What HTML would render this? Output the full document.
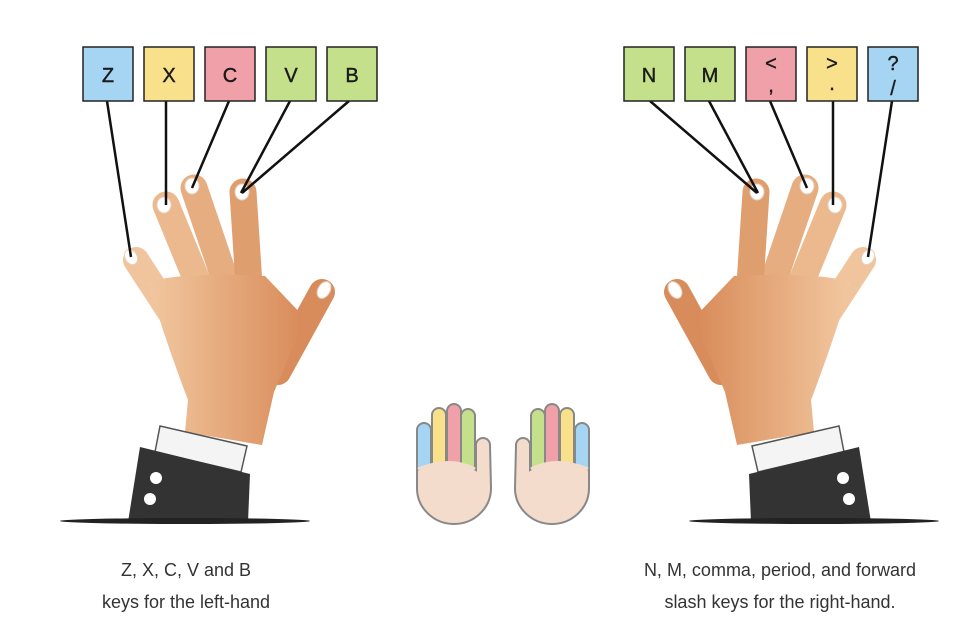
<!DOCTYPE html>
<html><head><meta charset="utf-8"><style>
html,body{margin:0;padding:0;background:#fff;width:960px;height:640px;overflow:hidden}
svg{display:block}
text{font-family:"Liberation Sans",sans-serif}
</style></head><body>
<svg width="960" height="640" viewBox="0 0 960 640" xmlns="http://www.w3.org/2000/svg">
<defs>
<linearGradient id="sk" x1="0" y1="0" x2="1" y2="0" gradientUnits="objectBoundingBox">
<stop offset="0" stop-color="#f2c8a0"/><stop offset="1" stop-color="#d88a58"/>
</linearGradient>
<g id="hand">
 <g stroke-linecap="round" fill="none">
  <line x1="136" y1="260" x2="185" y2="335" stroke="#f0c49c" stroke-width="26"/>
  <line x1="166" y1="205" x2="205" y2="300" stroke="#ecb98e" stroke-width="27"/>
  <line x1="194" y1="188" x2="232" y2="300" stroke="#e6ad80" stroke-width="27"/>
  <line x1="243" y1="192" x2="250" y2="300" stroke="#df9e6e" stroke-width="27"/>
  <line x1="322" y1="292" x2="278" y2="372" stroke="#d88c5c" stroke-width="26"/>
 </g>
 <path d="M148,282 Q180,272 265,276 L305,318 Q288,360 274,392 L262,445 L185,432 L188,400 Q165,340 148,282 Z" fill="url(#sk)"/>
 <g fill="#fff" stroke="#e8d0c0" stroke-width="1">
  <ellipse cx="131" cy="257" rx="6" ry="8" transform="rotate(-30 131 257)"/>
  <ellipse cx="164" cy="205" rx="7" ry="8"/>
  <ellipse cx="192" cy="186" rx="7" ry="8"/>
  <ellipse cx="242" cy="192" rx="7" ry="8"/>
  <ellipse cx="324" cy="290" rx="6" ry="9" transform="rotate(30 324 290)"/>
 </g>
 <polygon points="160,426 247,446 241,472 155,452" fill="#f4f4f4" stroke="#555" stroke-width="1.5"/>
 <polygon points="140,447 250,474 248,522 128,522" fill="#333"/>
 <circle cx="156" cy="478" r="6" fill="#fff"/>
 <circle cx="150" cy="499" r="6" fill="#fff"/>
 <ellipse cx="185" cy="521" rx="125" ry="3" fill="#222"/>
 <g stroke="#111" stroke-width="2.5">
  <line x1="107" y1="101" x2="131" y2="257"/>
  <line x1="166" y1="101" x2="166" y2="205"/>
  <line x1="229" y1="101" x2="192" y2="188"/>
  <line x1="290" y1="101" x2="241" y2="193"/>
  <line x1="349" y1="101" x2="242" y2="193"/>
 </g>
</g>
<g id="small">
 <g stroke="#888" stroke-width="2">
  <rect x="417" y="423" width="14" height="60" rx="7" fill="#a6d5f3"/>
  <rect x="432" y="408" width="14" height="70" rx="7" fill="#f9e08a"/>
  <rect x="447" y="404" width="14" height="70" rx="7" fill="#f0a0a8"/>
  <rect x="461" y="409" width="14" height="70" rx="7" fill="#c5e08a"/>
  <path d="M417,470 L417,488 A37,36 0 0 0 491,488 L490,445 A7,7 0 0 0 476,445 L476,470 Q450,455 417,470 Z" fill="#f4dccd"/>
 </g>
 <path d="M418,469 Q450,456 475,469" fill="none" stroke="#f4dccd" stroke-width="3"/>
</g>
</defs>
<use href="#hand"/>
<use href="#hand" transform="translate(999,0) scale(-1,1)"/>
<use href="#small"/>
<use href="#small" transform="translate(1006,0) scale(-1,1)"/>
<g stroke="#222" stroke-width="1.5">
 <rect x="83" y="47" width="50" height="54" fill="#a6d5f3"/>
 <rect x="144" y="47" width="50" height="54" fill="#f9e08a"/>
 <rect x="205" y="47" width="50" height="54" fill="#f0a0a8"/>
 <rect x="266" y="47" width="50" height="54" fill="#c5e08a"/>
 <rect x="327" y="47" width="50" height="54" fill="#c5e08a"/>
 <rect x="624" y="47" width="50" height="54" fill="#c5e08a"/>
 <rect x="685" y="47" width="50" height="54" fill="#c5e08a"/>
 <rect x="746" y="47" width="50" height="54" fill="#f0a0a8"/>
 <rect x="807" y="47" width="50" height="54" fill="#f9e08a"/>
 <rect x="868" y="47" width="50" height="54" fill="#a6d5f3"/>
</g>
<g font-size="20" fill="#1a1a1a" text-anchor="middle" stroke="#1a1a1a" stroke-width="0.4">
 <text x="108" y="82">Z</text><text x="169" y="82">X</text><text x="230" y="82">C</text>
 <text x="291" y="82">V</text><text x="352" y="82">B</text>
 <text x="649" y="82">N</text><text x="710" y="82">M</text>
 <text x="771" y="70">&lt;</text><text x="771" y="92">,</text>
 <text x="832" y="70">&gt;</text><text x="832" y="90">.</text>
 <text x="893" y="70">?</text><text x="893" y="95">/</text>
</g>
<g font-size="18" fill="#333" text-anchor="middle">
 <text x="186" y="576">Z, X, C, V and B</text>
 <text x="186" y="608">keys for the left-hand</text>
 <text x="780" y="576">N, M, comma, period, and forward</text>
 <text x="780" y="608">slash keys for the right-hand.</text>
</g>
</svg>
</body></html>
